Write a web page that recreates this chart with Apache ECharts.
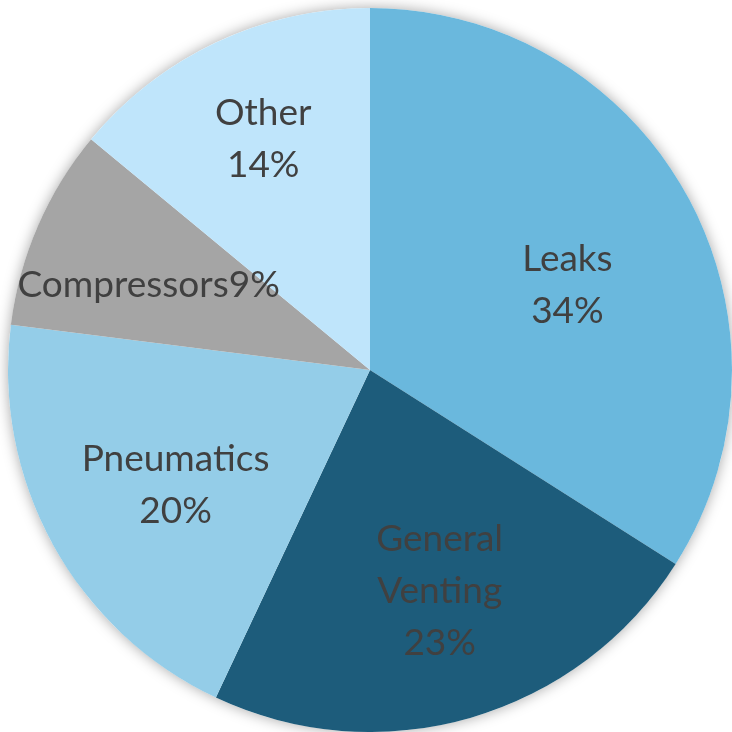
<!DOCTYPE html>
<html>
<head>
<meta charset="utf-8">
<script src="https://cdn.jsdelivr.net/npm/echarts@6/dist/echarts.min.js"></script>
<style>
  html, body { margin: 0; padding: 0; background: #fff; }
  #chart { width: 732px; height: 732px; }
</style>
</head>
<body>
<div id="chart"></div>
<script>
// slice names, shares (%), and how each label is written
const categories = ['Leaks', 'General Venting', 'Pneumatics', 'Compressors', 'Other'];
const values = [34, 23, 20, 9, 14];
const labelTexts = ['Leaks\n34%', 'General\nVenting\n23%', 'Pneumatics\n20%', 'Compressors9%', 'Other\n14%'];
const colors = ['#6AB8DD', '#1D5C7B', '#94CDE8', '#A5A5A5', '#BFE5FB'];

const chart = echarts.init(document.getElementById('chart'), null, { renderer: 'canvas' });

const center = [370, 370];
const radius = 362;
// small hand nudges so labels sit where the original put them
const labelNudge = [[-12, 30], [3, -8], [15, 0], [-2, 10], [-5, -15]];

chart.setOption({
  animation: false,
  series: [
    {
      // soft shadow behind the whole disc
      type: 'pie',
      silent: true,
      center: center,
      radius: radius,
      label: { show: false },
      itemStyle: {
        color: '#ffffff',
        shadowBlur: 14,
        shadowColor: 'rgba(0,0,0,0.35)'
      },
      data: [{ value: 1 }]
    },
    {
      type: 'pie',
      center: center,
      radius: radius,
      startAngle: 90,
      clockwise: true,
      label: { show: false },
      labelLine: { show: false },
      itemStyle: { borderWidth: 0 },
      data: categories.map((name, i) => ({
        name: name,
        value: values[i],
        itemStyle: { color: colors[i] }
      }))
    },
    {
      // transparent ring, only used to place the labels a bit further out
      type: 'pie',
      silent: true,
      center: center,
      radius: [110, radius],
      startAngle: 90,
      clockwise: true,
      itemStyle: { color: 'rgba(0,0,0,0)' },
      label: {
        show: true,
        position: 'inside',
        color: '#404040',
        fontFamily: 'Lato',
        fontSize: 37,
        lineHeight: 52,
        align: 'center',
        formatter: p => labelTexts[p.dataIndex]
      },
      labelLine: { show: false },
      data: categories.map((name, i) => ({
        name: name,
        value: values[i],
        label: { offset: labelNudge[i] }
      }))
    }
  ]
});
</script>
</body>
</html>
